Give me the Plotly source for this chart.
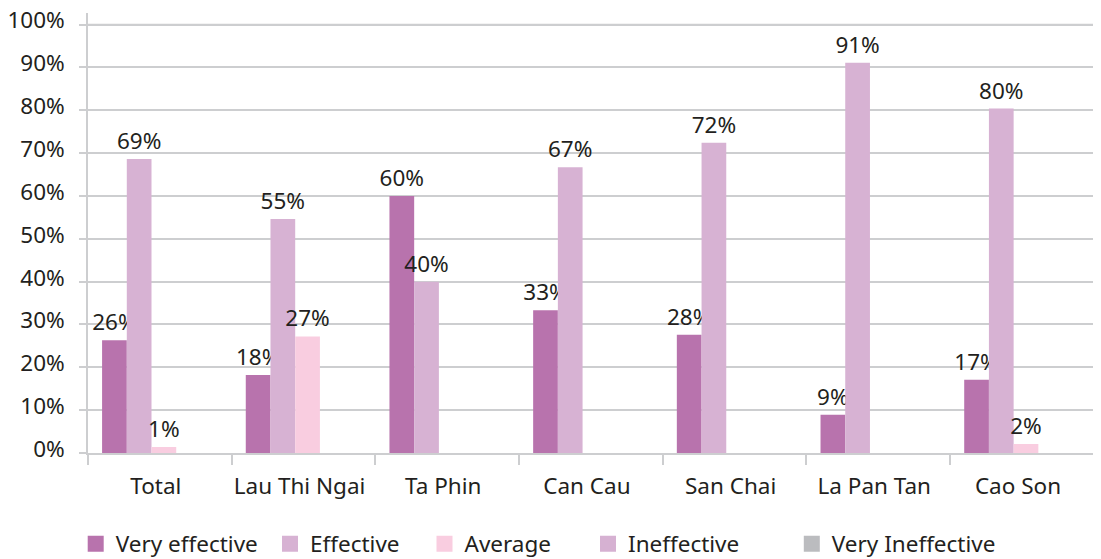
import plotly.graph_objects as go

categories = ["Total", "Lau Thi Ngai", "Ta Phin", "Can Cau", "San Chai", "La Pan Tan", "Cao Son"]
series_names = ["Very effective", "Effective", "Average", "Ineffective", "Very Ineffective"]
very_effective = [0.263, 0.182, 0.600, 0.333, 0.276, 0.089, 0.171]
effective = [0.686, 0.546, 0.400, 0.667, 0.724, 0.911, 0.804]
average = [0.014, 0.272, 0, 0, 0, 0, 0.021]
ineffective = [0, 0, 0, 0, 0, 0, 0]
very_ineffective = [0, 0, 0, 0, 0, 0, 0]
colors = ["#b873ad", "#d7b2d3", "#f9cde0", "#d6b1d2", "#bbbcbf"]
y_ticks = [0, 0.1, 0.2, 0.3, 0.4, 0.5, 0.6, 0.7, 0.8, 0.9, 1.0]
y_tick_labels = ["0%", "10%", "20%", "30%", "40%", "50%", "60%", "70%", "80%", "90%", "100%"]

all_values = [very_effective, effective, average, ineffective, very_ineffective]

FONT = "Noto Sans"
FS = 22.5
TXT = "#231f20"
GRID = "#cdced0"

# page is drawn with an 8px body margin; figure sized to compensate
W, H = 1093, 551
L, R, T, B = 80, 0, 5, 106
pw = W - L - R
ph = H - T - B

BAR_W = 0.172
BAR_OFF0 = -0.402
legend_x_px = [67.7, 262, 416.5, 580, 783.8]
legend_y_px = 536

fig = go.Figure()
for i, (name, vals) in enumerate(zip(series_names, all_values)):
    texts = [f"{round(v * 100):.0f}%" if v > 0 else "" for v in vals]
    fig.add_trace(go.Bar(
        x=categories, y=[v if v > 0 else None for v in vals], name=name,
        marker=dict(color=colors[i], line=dict(width=0)),
        width=BAR_W, offset=BAR_OFF0 + i * BAR_W,
        text=texts, textposition="outside", cliponaxis=False,
        constraintext="none",
        textfont=dict(family=FONT, size=FS, color=TXT),
        showlegend=False,
    ))

for i, name in enumerate(series_names):
    lg = "legend" if i == 0 else f"legend{i + 1}"
    fig.add_trace(go.Scatter(
        x=[None], y=[None], mode="markers", name=name,
        marker=dict(symbol="square", size=16, color=colors[i], line=dict(width=0)),
        showlegend=True, legend=lg, hoverinfo="skip",
    ))

layout_legends = {}
for i, xp in enumerate(legend_x_px):
    key = "legend" if i == 0 else f"legend{i + 1}"
    layout_legends[key] = dict(
        x=(xp - L) / pw, xanchor="left",
        y=(H - B - legend_y_px) / ph, yanchor="middle",
        font=dict(family=FONT, size=FS, color=TXT),
        bgcolor="rgba(0,0,0,0)", borderwidth=0,
    )

fig.update_layout(
    template="none",
    width=W, height=H,
    margin=dict(l=L, r=R, t=T, b=B, pad=0, autoexpand=False),
    paper_bgcolor="white", plot_bgcolor="white",
    barmode="overlay",
    showlegend=True,
    font=dict(family=FONT, size=FS, color=TXT),
    **layout_legends,
)
# make sure the top (100%) gridline is drawn
fig.add_shape(
    type="line", xref="paper", x0=0, x1=1, yref="y", y0=y_ticks[-1], y1=y_ticks[-1],
    line=dict(color=GRID, width=1.6), layer="above",
)
fig.update_xaxes(
    type="category", categoryorder="array", categoryarray=categories,
    range=[-0.5, 6.55], automargin=False,
    tickson="boundaries", ticks="outside", ticklen=10, tickcolor=GRID, tickwidth=1.5,
    showline=True, linecolor=GRID, linewidth=1.5,
    showgrid=False, tickfont=dict(family=FONT, size=FS, color=TXT),
    ticklabelstandoff=12, ticklabelshift=-4, ticklabeloverflow="allow",
    fixedrange=True,
)
fig.update_yaxes(
    range=[0, 1.027], tickmode="array", tickvals=y_ticks, ticktext=y_tick_labels,
    automargin=False,
    ticks="outside", ticklen=7, tickcolor=GRID, tickwidth=1.5,
    showline=True, linecolor=GRID, linewidth=1.5,
    showgrid=True, gridcolor=GRID, gridwidth=1.6, zeroline=False,
    tickfont=dict(family=FONT, size=FS, color=TXT),
    ticklabelstandoff=10, ticklabelshift=-4, ticklabeloverflow="allow",
    fixedrange=True,
)

fig.write_html("out.html")
